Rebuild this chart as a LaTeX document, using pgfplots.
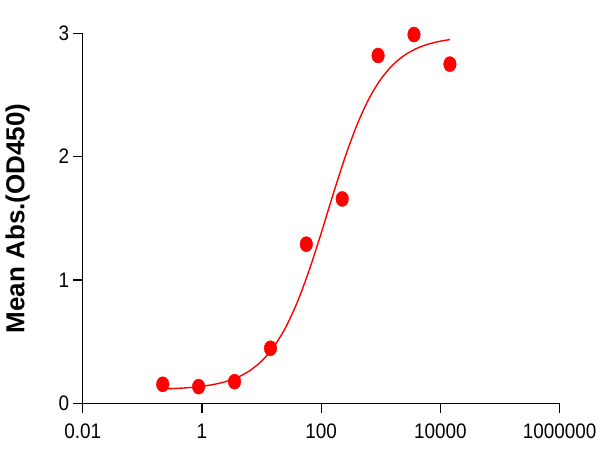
\documentclass[border=0pt]{standalone}
\usepackage{fontspec}
\setmainfont{Liberation Sans}
\newfontfamily\tickfont[FakeStretch=0.9]{Liberation Sans}
\usepackage{pgfplots}
\pgfplotsset{compat=1.18}
\begin{document}
\begin{tikzpicture}
\begin{axis}[
  at={(82.7bp,46.7bp)}, anchor=south west,
  scale only axis, width=477bp, height=370bp,
  xmode=log, xmin=0.01, xmax=1000000,
  ymin=0, ymax=3,
  axis x line*=bottom, axis y line*=left,
  axis line style={-, line width=1.3bp, black},
  tick align=outside, major tick length=9.5bp,
  every tick/.style={black, line width=1.3bp},
  xtick={0.01,1,100,10000,1000000},
  xticklabels={0.01,1,100,10000,1000000},
  minor xtick={}, minor tick num=0,
  ytick={0,1,2,3}, yticklabels={0,1,2,3},
  ticklabel style={font=\tickfont\fontsize{21bp}{25bp}\selectfont},
  xticklabel style={inner sep=0pt, yshift=-11bp},
  yticklabel style={inner sep=0pt, xshift=-4bp},
  ylabel={Mean Abs.(OD450)},
  every axis y label/.style={at={(axis description cs:0,0.5)}, rotate=90, anchor=center, yshift=65bp,
    font=\fontsize{26bp}{30bp}\selectfont\bfseries},
  clip=false,
]
\addplot[red, line width=1.4bp, smooth, no marks] coordinates {
(0.22,0.117) (0.398,0.1215) (0.631,0.128) (1,0.138) (1.585,0.153) (2.512,0.176)
(3.981,0.211) (6.310,0.264) (10,0.342) (15.85,0.455) (25.12,0.612) (39.81,0.821)
(63.10,1.081) (100,1.380) (158.5,1.695) (251.2,1.995) (398.1,2.257) (631.0,2.469)
(1000,2.628) (1585,2.743) (2512,2.823) (3981,2.877) (6310,2.913) (10000,2.936)
(14400,2.949)
};
\addplot[only marks, mark=*, mark size=7bp, red, mark options={draw=red, fill=red, xscale=0.9, yscale=1.08}] coordinates {
(0.22,0.154) (0.88,0.135) (3.52,0.175) (14.1,0.446) (56.3,1.29) (225,1.657)
(900,2.82) (3600,2.99) (14400,2.75)
};
\end{axis}
\pgfresetboundingbox
\path[use as bounding box] (0,0) rectangle (600bp,450bp);
\end{tikzpicture}
\end{document}
